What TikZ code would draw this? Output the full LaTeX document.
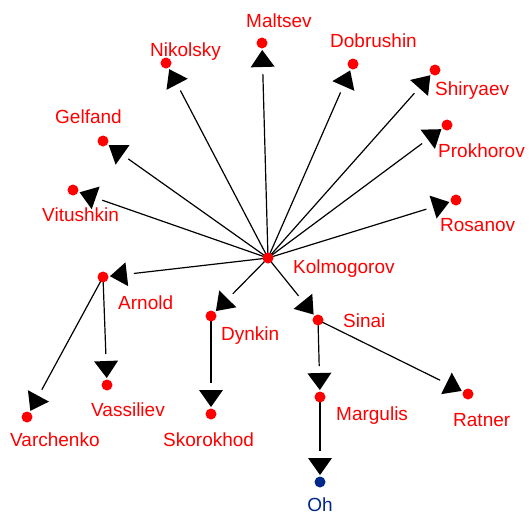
\documentclass[tikz,border=0pt]{standalone}
\usepackage{fontspec}
\setmainfont{Liberation Sans}
\usetikzlibrary{calc}
\definecolor{lblred}{RGB}{255,0,0}
\definecolor{ohblue}{RGB}{0,40,140}
\tikzset{
  dot/.style={circle,fill=lblred,inner sep=0pt,minimum size=11pt},
  lbl/.style={text=lblred,font=\fontsize{19}{19}\selectfont,inner sep=0pt,anchor=base west},
  link/.style={line width=1.2pt,black},
  head/.style={fill=black,draw=none}
}
\newcommand{\kedge}[2]{%
  \draw[link] (#1) -- ($(#2)!31pt!(#1)$);
  \fill[head] ($(#2)!7pt!(#1)$) -- ($($(#2)!24pt!(#1)$)!12pt!90:(#2)$) -- ($($(#2)!24pt!(#1)$)!12pt!-90:(#2)$) -- cycle;
}
\begin{document}
\begin{tikzpicture}[x=1pt,y=-1pt]
\useasboundingbox (0,0) rectangle (529,515);
% node centres
\coordinate (kol) at (268,258);
\coordinate (mal) at (262,43);
\coordinate (nik) at (166,63);
\coordinate (dob) at (353,64);
\coordinate (shi) at (435,70);
\coordinate (pro) at (447,125);
\coordinate (gel) at (103,141);
\coordinate (vit) at (73,190);
\coordinate (ros) at (456,200);
\coordinate (arn) at (103,277);
\coordinate (dyn) at (211,316);
\coordinate (sin) at (318,320);
\coordinate (var) at (27,417);
\coordinate (vas) at (107,385);
\coordinate (sko) at (211,414);
\coordinate (mar) at (320,397);
\coordinate (rat) at (468,394);
\coordinate (oh) at (320,482);
% edges
\kedge{kol}{mal}
\kedge{kol}{nik}
\kedge{kol}{dob}
\kedge{kol}{shi}
\kedge{kol}{pro}
\kedge{kol}{gel}
\kedge{kol}{vit}
\kedge{kol}{ros}
\kedge{kol}{arn}
\kedge{kol}{dyn}
\kedge{kol}{sin}
\kedge{arn}{vas}
\kedge{arn}{var}
\kedge{dyn}{sko}
\kedge{sin}{mar}
\kedge{sin}{rat}
\kedge{mar}{oh}
% dots
\foreach \n in {kol,mal,nik,dob,shi,pro,gel,vit,ros,arn,dyn,sin,var,vas,sko,mar,rat}
  \node[dot] at (\n) {};
\node[dot,fill=ohblue] at (oh) {};
% labels
\node[lbl] (lkol) at (293,273) {Kolmogorov};
\node[lbl] (lmal) at (246,27) {Maltsev};
\node[lbl] (lnik) at (150,56) {Nikolsky};
\node[lbl] (ldob) at (330,47) {Dobrushin};
\node[lbl] (lshi) at (435,95) {Shiryaev};
\node[lbl] (lpro) at (438,157) {Prokhorov};
\node[lbl] (lgel) at (55,123) {Gelfand};
\node[lbl] (lvit) at (42,221) {Vitushkin};
\node[lbl] (lros) at (440,231) {Rosanov};
\node[lbl] (larn) at (118,309) {Arnold};
\node[lbl] (ldyn) at (221,340) {Dynkin};
\node[lbl] (lsin) at (343,327) {Sinai};
\node[lbl] (lvar) at (10,446) {Varchenko};
\node[lbl] (lvas) at (91,416) {Vassiliev};
\node[lbl] (lsko) at (163,446) {Skorokhod};
\node[lbl] (lmar) at (336,420) {Margulis};
\node[lbl] (lrat) at (453,426) {Ratner};
\node[lbl,text=ohblue,anchor=base] (loh) at (320,511) {Oh};
\end{tikzpicture}
\end{document}
